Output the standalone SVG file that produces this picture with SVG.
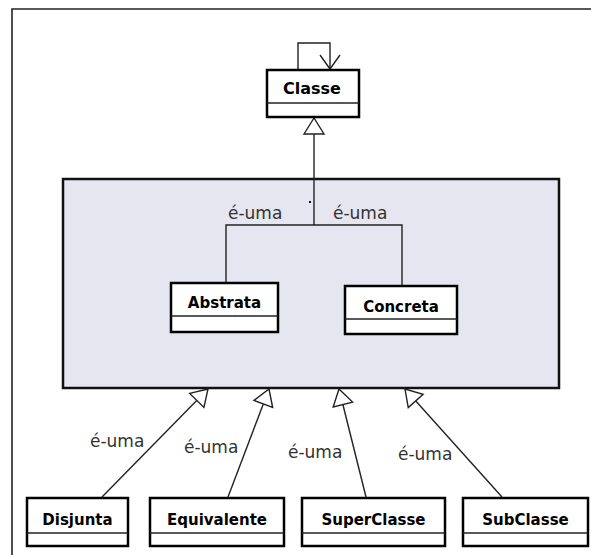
<svg xmlns="http://www.w3.org/2000/svg" width="591" height="555" viewBox="0 0 591 555">
  <style>
    .cls rect { fill: #ffffff; stroke: #000000; stroke-width: 2.5; }
    .cls line { stroke: #222222; stroke-width: 1.3; }
    .cls text { font-family: "DejaVu Sans", "Liberation Sans", sans-serif; font-weight: bold; font-size: 15px; fill: #000000; text-anchor: middle; }
    .lbl { font-family: "DejaVu Sans", "Liberation Sans", sans-serif; font-size: 17px; fill: #333333; }
    .conn { fill: none; stroke: #222222; stroke-width: 1.4; }
  </style>
  <defs>
    <!-- hollow triangle for generalisation -->
    <marker id="gen" markerUnits="userSpaceOnUse" markerWidth="20" markerHeight="24" viewBox="-2 -2 20 24" refX="16" refY="10" orient="auto">
      <path d="M0,0 L16,10 L0,20 Z" fill="#ffffff" stroke="#222222" stroke-width="1.4"/>
    </marker>
    <!-- open arrow for the self association -->
    <marker id="open" markerUnits="userSpaceOnUse" markerWidth="18" markerHeight="24" viewBox="-2 -2 18 24" refX="14" refY="10" orient="auto">
      <path d="M0,0 L14,10 L0,20" fill="none" stroke="#222222" stroke-width="1.4"/>
    </marker>
  </defs>

  <rect x="0" y="0" width="591" height="555" fill="#ffffff"/>

  <!-- page frame -->
  <path d="M12,555 L12,9 L591,9" fill="none" stroke="#222222" stroke-width="1.6"/>

  <!-- package-like container -->
  <g id="grupo">
    <rect x="63" y="179" width="496" height="209" fill="#e6e6f0" stroke="#111111" stroke-width="2.5"/>
    <rect x="309" y="201" width="2" height="2" fill="#111111"/>
  </g>

  <g id="connectors">
    <!-- self association on Classe -->
    <path class="conn" d="M298,69 L298,43 L330,43 L330,69" marker-end="url(#open)"/>
    <!-- Abstrata / Concreta to Classe -->
    <path class="conn" d="M226,283 L226,225 L402,225 L402,286"/>
    <path class="conn" d="M314,225 L314,118" marker-end="url(#gen)"/>
    <!-- bottom classes to the container -->
    <path class="conn" d="M102,497 L208,389" marker-end="url(#gen)"/>
    <path class="conn" d="M228,497 L269,389" marker-end="url(#gen)"/>
    <path class="conn" d="M366,497 L339,389" marker-end="url(#gen)"/>
    <path class="conn" d="M502,497 L405,389" marker-end="url(#gen)"/>

    <text class="lbl" x="228" y="219">é-uma</text>
    <text class="lbl" x="333" y="219">é-uma</text>
    <text class="lbl" x="90" y="447">é-uma</text>
    <text class="lbl" x="184" y="453">é-uma</text>
    <text class="lbl" x="288" y="458">é-uma</text>
    <text class="lbl" x="398" y="460">é-uma</text>
  </g>

  <g id="classe" class="cls">
    <rect x="267" y="70" width="92" height="47"/>
    <line x1="267" y1="103" x2="359" y2="103"/>
    <text x="312" y="94" style="font-size:16px">Classe</text>
  </g>

  <g id="abstrata" class="cls">
    <rect x="171" y="283" width="107" height="49"/>
    <line x1="171" y1="316" x2="278" y2="316"/>
    <text x="224.5" y="308">Abstrata</text>
  </g>

  <g id="concreta" class="cls">
    <rect x="345" y="286" width="112" height="48"/>
    <line x1="345" y1="319" x2="457" y2="319"/>
    <text x="401" y="312">Concreta</text>
  </g>

  <g id="disjunta" class="cls">
    <rect x="27" y="498" width="101" height="48"/>
    <line x1="27" y1="533" x2="128" y2="533"/>
    <text x="77.5" y="525">Disjunta</text>
  </g>

  <g id="equivalente" class="cls">
    <rect x="150" y="498" width="134" height="48"/>
    <line x1="150" y1="533" x2="284" y2="533"/>
    <text x="217" y="525">Equivalente</text>
  </g>

  <g id="superclasse" class="cls">
    <rect x="302" y="498" width="143" height="48"/>
    <line x1="302" y1="533" x2="445" y2="533"/>
    <text x="373.5" y="525">SuperClasse</text>
  </g>

  <g id="subclasse" class="cls">
    <rect x="463" y="498" width="125" height="48"/>
    <line x1="463" y1="533" x2="588" y2="533"/>
    <text x="525.5" y="525">SubClasse</text>
  </g>
</svg>
